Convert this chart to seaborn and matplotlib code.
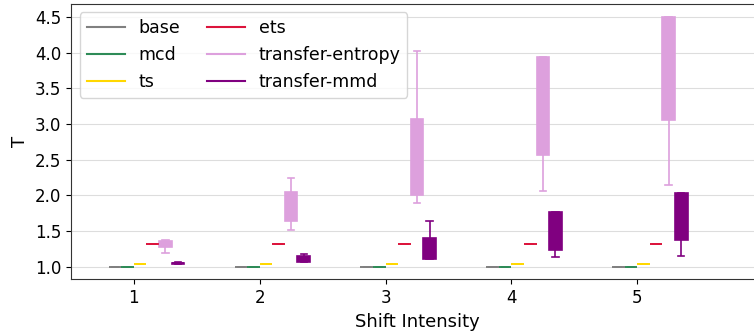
import numpy as np
import pandas as pd
import matplotlib
matplotlib.use("Agg")
import matplotlib.pyplot as plt
from matplotlib.lines import Line2D
import seaborn as sns

shifts = [1, 2, 3, 4, 5]
methods = ["base", "mcd", "ts", "ets", "transfer-entropy", "transfer-mmd"]
colors = ["#808080", "#2E8B57", "#FFD700", "#DC143C", "#DDA0DD", "#800080"]

# five-number summaries per shift: [min, q1, median, q3, max]
base = [[1.0] * 5] * 5
mcd = [[1.0] * 5] * 5
ts = [[1.035] * 5] * 5
ets = [[1.325] * 5] * 5
transfer_entropy = [
    [1.20, 1.28, 1.32, 1.367, 1.375],
    [1.516, 1.646, 1.85, 2.046, 2.237],
    [1.90, 2.004, 2.5, 3.074, 4.026],
    [2.064, 2.566, 3.2, 3.933, 3.933],
    [2.144, 3.054, 3.8, 4.505, 4.505],
]
transfer_mmd = [
    [1.035, 1.04, 1.047, 1.055, 1.065],
    [1.065, 1.07, 1.11, 1.149, 1.186],
    [1.11, 1.116, 1.25, 1.41, 1.637],
    [1.144, 1.237, 1.5, 1.763, 1.763],
    [1.149, 1.377, 1.7, 2.036, 2.036],
]
series = [base, mcd, ts, ets, transfer_entropy, transfer_mmd]

rows = []
for j, (m, vals) in enumerate(zip(methods, series)):
    for s, v in zip(shifts, vals):
        for x in v:
            rows.append({"method": m, "shift": s, "pos": s + (j - 1.5) * 0.1, "T": x})
df = pd.DataFrame(rows)

fig = plt.figure(figsize=(7.54, 3.32), dpi=100)
ax = fig.add_axes([71 / 754, (332 - 279.3) / 332, 692 / 754, (279.3 - 3.7) / 332])

for m, c in zip(methods, colors):
    sub = df[df["method"] == m]
    sns.boxplot(data=sub, x="pos", y="T", native_scale=True, width=0.1,
                color=c, linecolor=c, saturation=1, whis=np.inf,
                linewidth=1.2, ax=ax, zorder=3)

ax.set_xlim(0.5, 6.0)
ax.set_ylim(0.825, 4.685)
ax.set_xticks(shifts)
ax.set_xticklabels([str(s) for s in shifts])
ax.set_yticks([1.0, 1.5, 2.0, 2.5, 3.0, 3.5, 4.0, 4.5])
ax.tick_params(labelsize=12)
ax.set_xlabel("Shift Intensity", fontsize=13)
ax.set_ylabel("T", fontsize=13)
ax.grid(axis="y", color="#dddddd", linewidth=0.8)
ax.grid(axis="x", visible=False)
ax.set_axisbelow(True)
for sp in ax.spines.values():
    sp.set_color("#333333")

handles = [Line2D([0], [0], color=c, lw=1.5) for c in colors]
ax.legend(handles, methods, loc="upper left", ncol=2, fontsize=12.5,
          bbox_to_anchor=(0.0, 1.0), borderaxespad=0.5, columnspacing=1.5,
          handlelength=2.2)

fig.savefig("out.png", dpi=100)
